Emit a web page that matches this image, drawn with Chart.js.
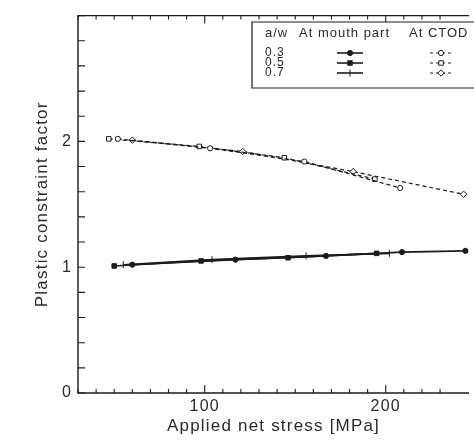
<!DOCTYPE html>
<html>
<head>
<meta charset="utf-8">
<script src="https://cdn.jsdelivr.net/npm/chart.js@4.4.1/dist/chart.umd.min.js"></script>
<style>
  html, body { margin: 0; padding: 0; background: #fff; }
</style>
</head>
<body>
<canvas id="constraint-chart" width="474" height="440"></canvas>
<script>
"use strict";

// data --------------------------------------------------------
const awLabels = ["0.3", "0.5", "0.7"];

// at mouth part
const mouthStress03 = [60, 117, 167, 209, 244];
const mouthFactor03 = [1.02, 1.06, 1.09, 1.12, 1.13];
const mouthStress05 = [50, 98, 146, 195];
const mouthFactor05 = [1.01, 1.05, 1.075, 1.11];
const mouthStress07 = [55, 104, 156, 202];
const mouthFactor07 = [1.02, 1.06, 1.09, 1.11];

// at CTOD
const ctodStress03 = [52, 103, 155, 208];
const ctodFactor03 = [2.02, 1.945, 1.84, 1.63];
const ctodStress05 = [47, 97, 144, 194];
const ctodFactor05 = [2.02, 1.96, 1.87, 1.70];
const ctodStress07 = [60, 121, 182, 243];
const ctodFactor07 = [2.01, 1.92, 1.76, 1.58];

const xLabelTicks = [100, 200];
const yLabelTicks = [0, 1, 2];

const INK = "#1c1c1c";
const FONT = "'Liberation Sans', Arial, sans-serif";

function toPoints(xs, ys) {
  return xs.map(function (x, i) {
    return { x: x, y: ys[i] };
  });
}

// marker styles per a/w
const mouthMarkers = [
  { pointStyle: "circle", radius: 2.6, rotation: 0, fill: INK },
  { pointStyle: "rect", radius: 3.2, rotation: 0, fill: INK },
  { pointStyle: "line", radius: 3.5, rotation: 90, fill: INK },
];
const ctodMarkers = [
  { pointStyle: "circle", radius: 2.6, rotation: 0, fill: "#fff" },
  { pointStyle: "rect", radius: 3.2, rotation: 0, fill: "#fff" },
  { pointStyle: "rectRot", radius: 3.2, rotation: 0, fill: "#fff" },
];

function makeSet(points, marker, dashed) {
  return {
    data: points,
    showLine: true,
    borderColor: INK,
    borderWidth: dashed ? 1.2 : 1.6,
    borderDash: dashed ? [4, 3] : [],
    pointStyle: marker.pointStyle,
    pointRadius: marker.radius,
    pointRotation: marker.rotation,
    pointBackgroundColor: marker.fill,
    pointBorderColor: INK,
    pointBorderWidth: 1,
    tension: 0,
  };
}

const datasets = [
  makeSet(toPoints(mouthStress03, mouthFactor03), mouthMarkers[0], false),
  makeSet(toPoints(mouthStress05, mouthFactor05), mouthMarkers[1], false),
  makeSet(toPoints(mouthStress07, mouthFactor07), mouthMarkers[2], false),
  makeSet(toPoints(ctodStress03, ctodFactor03), ctodMarkers[0], true),
  makeSet(toPoints(ctodStress05, ctodFactor05), ctodMarkers[1], true),
  makeSet(toPoints(ctodStress07, ctodFactor07), ctodMarkers[2], true),
];

// scanned look: slightly spaced lettering
const letterSpacing = {
  id: "letterSpacing",
  beforeDraw(chart) {
    chart.ctx.letterSpacing = "1.2px";
  },
};

// frame with inward tick marks (left, bottom, top)
const frameTicks = {
  id: "frameTicks",
  afterDatasetsDraw(chart) {
    const ctx = chart.ctx;
    const area = chart.chartArea;
    const xs = chart.scales.x;
    const ys = chart.scales.y;
    ctx.save();
    ctx.strokeStyle = INK;
    ctx.lineWidth = 1.4;
    ctx.setLineDash([]);
    ctx.beginPath();
    ctx.moveTo(area.right, area.top);
    ctx.lineTo(area.left, area.top);
    ctx.lineTo(area.left, area.bottom);
    ctx.lineTo(area.right, area.bottom);
    ctx.stroke();

    ctx.lineWidth = 1.1;
    ctx.beginPath();
    xs.ticks.forEach(function (t) {
      if (Math.abs(t.value % 10) > 0.01) return;
      const px = xs.getPixelForValue(t.value);
      const len = t.value % 100 === 0 ? 8 : 4;
      ctx.moveTo(px, area.bottom);
      ctx.lineTo(px, area.bottom - len);
      ctx.moveTo(px, area.top);
      ctx.lineTo(px, area.top + len);
    });
    ys.ticks.forEach(function (t) {
      const py = ys.getPixelForValue(t.value);
      ctx.moveTo(area.left, py);
      ctx.lineTo(area.left + 7, py);
    });
    ctx.stroke();
    ctx.restore();
  },
};

// table-style legend: a/w | at mouth part | at CTOD
const tableLegend = {
  id: "tableLegend",
  afterDraw(chart) {
    const ctx = chart.ctx;
    const box = { left: 252, top: 22, right: 474, bottom: 88 };
    ctx.save();
    ctx.letterSpacing = "1px";
    ctx.fillStyle = "#fff";
    ctx.fillRect(box.left, box.top, box.right - box.left, box.bottom - box.top);
    ctx.strokeStyle = INK;
    ctx.lineWidth = 1.2;
    ctx.beginPath();
    ctx.moveTo(box.right, box.top);
    ctx.lineTo(box.left, box.top);
    ctx.lineTo(box.left, box.bottom);
    ctx.lineTo(box.right, box.bottom);
    ctx.stroke();

    ctx.fillStyle = "#2a2a2a";
    ctx.textBaseline = "middle";
    ctx.font = "13px " + FONT;
    ctx.fillText("a/w", 265, 33);
    ctx.fillText("At mouth part", 299, 33);
    ctx.fillText("At CTOD", 409, 33);

    const rowY = [53, 63, 73];
    ctx.font = "12px " + FONT;
    awLabels.forEach(function (label, i) {
      const y = rowY[i];
      ctx.fillStyle = "#2a2a2a";
      ctx.fillText(label, 265, y);

      // mouth sample
      ctx.strokeStyle = INK;
      ctx.lineWidth = 1.6;
      ctx.setLineDash([]);
      ctx.beginPath();
      ctx.moveTo(337, y);
      ctx.lineTo(363, y);
      ctx.stroke();
      ctx.lineWidth = 1;
      ctx.fillStyle = mouthMarkers[i].fill;
      Chart.helpers.drawPoint(ctx, {
        pointStyle: mouthMarkers[i].pointStyle,
        radius: mouthMarkers[i].radius,
        rotation: mouthMarkers[i].rotation,
        borderWidth: 1,
      }, 350, y);

      // CTOD sample
      ctx.lineWidth = 1.2;
      ctx.setLineDash([3, 3]);
      ctx.beginPath();
      ctx.moveTo(430, y);
      ctx.lineTo(452, y);
      ctx.stroke();
      ctx.setLineDash([]);
      ctx.lineWidth = 1;
      ctx.fillStyle = ctodMarkers[i].fill;
      Chart.helpers.drawPoint(ctx, {
        pointStyle: ctodMarkers[i].pointStyle,
        radius: ctodMarkers[i].radius,
        rotation: ctodMarkers[i].rotation,
        borderWidth: 1,
      }, 441, y);
    });
    ctx.restore();
  },
};

new Chart(document.getElementById("constraint-chart"), {
  type: "scatter",
  data: { datasets: datasets },
  plugins: [letterSpacing, frameTicks, tableLegend],
  options: {
    responsive: false,
    animation: false,
    layout: { padding: { top: 14, right: 0, left: 0, bottom: 0 } },
    plugins: {
      legend: { display: false },
      tooltip: { enabled: false },
    },
    scales: {
      x: {
        type: "linear",
        min: 30,
        max: 246,
        afterFit: function (scale) {
          scale.height = 47;
        },
        grid: { display: false, drawTicks: false },
        border: { display: false },
        ticks: {
          stepSize: 10,
          autoSkip: false,
          maxRotation: 0,
          padding: 4,
          color: "#2a2a2a",
          font: { family: FONT, size: 16 },
          callback: function (value) {
            return xLabelTicks.includes(value) ? String(value) : "";
          },
        },
        title: {
          display: true,
          text: "Applied net stress [MPa]",
          color: "#2a2a2a",
          font: { family: FONT, size: 17 },
          padding: { top: 0, bottom: 3 },
        },
      },
      y: {
        type: "linear",
        min: 0,
        max: 3,
        afterFit: function (scale) {
          scale.width = 78;
        },
        grid: { display: false, drawTicks: false },
        border: { display: false },
        ticks: {
          stepSize: 0.2,
          autoSkip: false,
          padding: 6,
          color: "#2a2a2a",
          font: { family: FONT, size: 16 },
          callback: function (value) {
            const v = Math.round(value * 10) / 10;
            return yLabelTicks.includes(v) ? String(v) : "";
          },
        },
        title: {
          display: true,
          text: "Plastic constraint factor",
          color: "#2a2a2a",
          font: { family: FONT, size: 17 },
          padding: { top: 32, bottom: 0 },
        },
      },
    },
  },
});
</script>
</body>
</html>
